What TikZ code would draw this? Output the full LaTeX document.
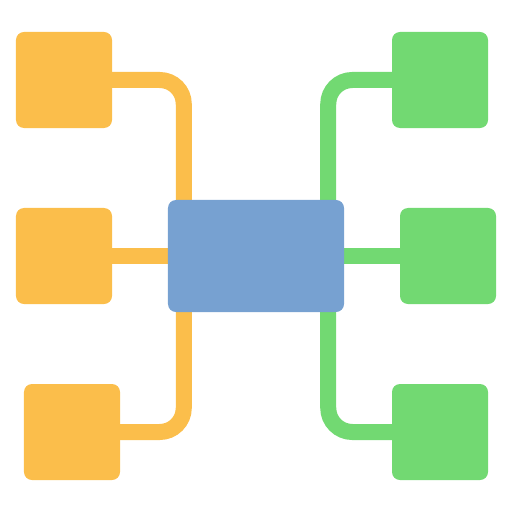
\documentclass[tikz,border=0pt]{standalone}
\usepackage{tikz}
\usetikzlibrary{calc,backgrounds}

\definecolor{leafyellow}{RGB}{251,190,75}
\definecolor{leafgreen}{RGB}{114,217,114}
\definecolor{hubblue}{RGB}{119,161,209}

\begin{document}
\begin{tikzpicture}[x=0.03cm,y=-0.03cm,
        box/.style={rectangle,rounded corners=0.24cm,inner sep=0pt,minimum size=2.88cm},
        leftbox/.style={box,fill=leafyellow},
        rightbox/.style={box,fill=leafgreen},
        hubbox/.style={rectangle,rounded corners=0.24cm,inner sep=0pt,
                minimum width=5.28cm,minimum height=3.36cm,fill=hubblue},
        wire/.style={line width=0.48cm,rounded corners=0.72cm},
        leftline/.style={wire,draw=leafyellow},
        rightline/.style={wire,draw=leafgreen}]

  \useasboundingbox (0,0) rectangle (512,512);

  \node[hubbox] (hub) at (256,256) {};

  \node[leftbox] (l_1) at (64,80) {};
  \node[leftbox] (l_2) at (64,256) {};
  \node[leftbox] (l_3) at (72,432) {};

  \node[rightbox] (r_1) at (440,80) {};
  \node[rightbox] (r_2) at (448,256) {};
  \node[rightbox] (r_3) at (440,432) {};

  \begin{scope}[on background layer]
    \draw[leftline] (l_1.east) -| ($(hub.north west)+(16,0)$);
    \draw[leftline] (l_2) -- (hub);
    \draw[leftline] (l_3.east) -| ($(hub.south west)+(16,0)$);

    \draw[rightline] (r_1.west) -| ($(hub.north east)+(-16,0)$);
    \draw[rightline] (hub) -- (r_2);
    \draw[rightline] (r_3.west) -| ($(hub.south east)+(-16,0)$);
  \end{scope}

\end{tikzpicture}
\end{document}
